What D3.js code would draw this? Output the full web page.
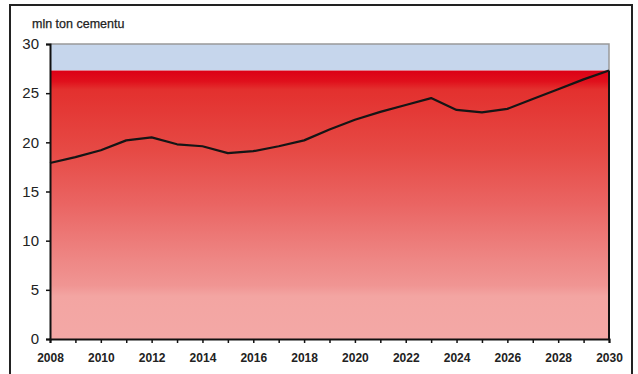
<!DOCTYPE html>
<html><head><meta charset="utf-8">
<script src="https://cdn.jsdelivr.net/npm/d3@7"></script>
<style>body{margin:0;background:#fff}svg{display:block}</style>
</head><body>
<script>
const years = d3.range(2008, 2031);
const values = [17.9,18.5,19.2,20.2,20.5,19.8,19.6,18.9,19.1,19.6,20.2,21.3,22.3,23.1,23.8,24.5,23.3,23.05,23.4,24.4,25.4,26.4,27.3];
const capacity = 27.3;
const yTicks = [0,5,10,15,20,25,30];
const xLabels = [2008,2010,2012,2014,2016,2018,2020,2022,2024,2026,2028,2030];
const unitLabel = "mln ton cementu";

const W = 638, H = 374;
const svg = d3.select("body").append("svg").attr("width", W).attr("height", H);
const m = {l:50, r:609, t:44, b:339};
const x = d3.scaleLinear().domain([2008,2030]).range([m.l, m.r]);
const y = d3.scaleLinear().domain([0,30]).range([m.b, m.t]);

// outer frame
svg.append("rect").attr("x",10).attr("y",5).attr("width",622).attr("height",380)
  .attr("fill","#fff").attr("stroke","#222").attr("stroke-width",2);

const defs = svg.append("defs");
const g = defs.append("linearGradient").attr("id","red").attr("x1",0).attr("x2",0).attr("y1",0).attr("y2",1);
[[0,"#dc0016"],[0.04,"#e0101c"],[0.07,"#e3302e"],[0.3,"#e64a45"],[0.5,"#ea6563"],[0.7,"#ee8684"],[0.8,"#f09593"],[0.84,"#f3a5a2"],[1,"#f3a8a6"]]
  .forEach(([o,c]) => g.append("stop").attr("offset",o).attr("stop-color",c));

// blue band
svg.append("rect").attr("x",m.l).attr("y",y(30)).attr("width",m.r-m.l).attr("height",y(capacity)-y(30))
  .attr("fill","#c6d6ec");
// red region
svg.append("rect").attr("x",m.l).attr("y",y(capacity)).attr("width",m.r-m.l).attr("height",y(0)-y(capacity))
  .attr("fill","url(#red)");
// plot border top/right gray
svg.append("path").attr("d",`M${m.l},${y(30)}H${m.r}V${y(capacity)}`).attr("fill","none").attr("stroke","#999").attr("stroke-width",1.5);
svg.append("path").attr("d",`M${m.r},${y(capacity)}V${y(0)}`).attr("fill","none").attr("stroke","#111").attr("stroke-width",2);

// line
svg.append("path").datum(values)
  .attr("d", d3.line().x((d,i)=>x(years[i])).y(d=>y(d)))
  .attr("fill","none").attr("stroke","#151515").attr("stroke-width",2.2).attr("stroke-linejoin","round");

// axes
const yAxis = svg.append("g").attr("transform",`translate(${m.l},0)`)
  .call(d3.axisLeft(y).tickValues(yTicks).tickSize(4).tickPadding(7).tickFormat(d3.format("d")));
yAxis.select(".domain").attr("stroke","#111").attr("stroke-width",2);
yAxis.selectAll(".tick line").attr("stroke","#111").attr("stroke-width",1.5);
yAxis.selectAll("text").attr("font-family","Liberation Sans, Arial, sans-serif").attr("font-size",15).attr("fill","#222");

const xAxis = svg.append("g").attr("transform",`translate(0,${m.b})`)
  .call(d3.axisBottom(x).tickValues(years).tickSize(4).tickFormat(d => xLabels.includes(d) ? d : ""));
xAxis.select(".domain").attr("stroke","#111").attr("stroke-width",2);
xAxis.selectAll(".tick line").attr("stroke","#111").attr("stroke-width",1.5);
xAxis.selectAll("text").attr("font-family","Liberation Sans, Arial, sans-serif").attr("font-size",12)
  .attr("font-weight","bold").attr("fill","#222").attr("dy","1.3em");

svg.append("text").attr("x",32).attr("y",28).text(unitLabel)
  .attr("font-family","Liberation Sans, Arial, sans-serif").attr("font-size",12.5).attr("fill","#222")
  .attr("stroke","#222").attr("stroke-width",0.25);
</script>
</body></html>
